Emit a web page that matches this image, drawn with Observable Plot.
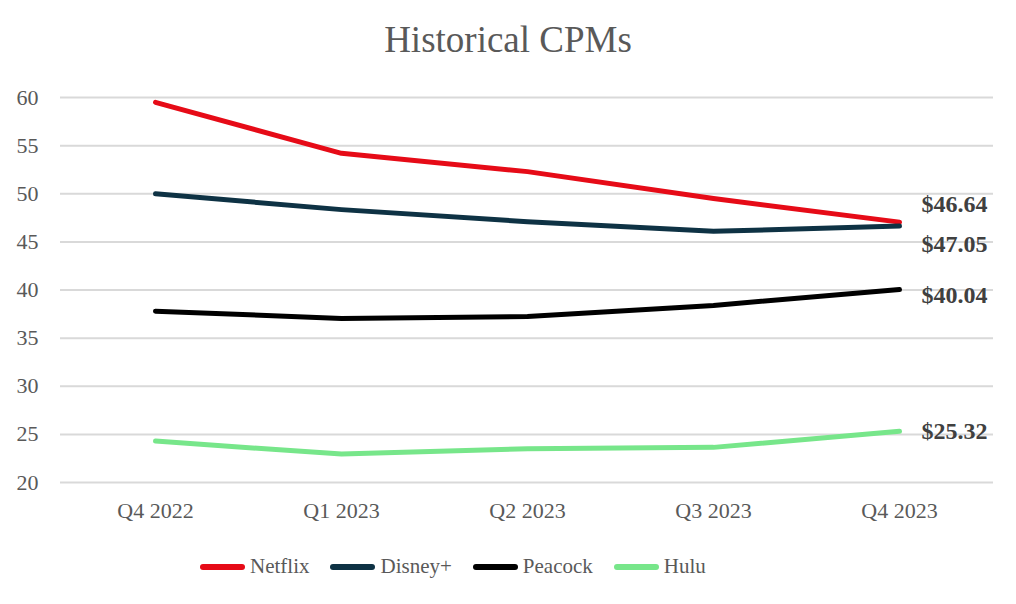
<!DOCTYPE html>
<html><head><meta charset="utf-8">
<script src="https://cdn.jsdelivr.net/npm/d3@7"></script>
<script src="https://cdn.jsdelivr.net/npm/@observablehq/plot@0.6"></script>
<style>
body{margin:0;background:#fff;font-family:"Liberation Serif",serif;}
#wrap{width:1016px;height:604px;position:relative;}
#title{height:70px;line-height:80px;text-align:center;font-size:37px;color:#595959;font-family:"Liberation Serif",serif;}
#legend{display:flex;justify-content:flex-start;gap:21px;margin-top:14px;padding-left:200px;font-size:21px;color:#595959;font-family:"Liberation Serif",serif;}
#legend .item{display:flex;align-items:center;gap:5px;}
#legend .sw{width:45px;height:6px;border-radius:3px;}
</style></head>
<body><div id="wrap"><div id="title">Historical CPMs</div><div id="chart"></div><div id="legend"></div></div>
<script>
const quarters = ["Q4 2022","Q1 2023","Q2 2023","Q3 2023","Q4 2023"];
const seriesNames = ["Netflix","Disney+","Peacock","Hulu"];
const colors = ["#e60b17","#0e3244","#000000","#77e68a"];
const netflix = [59.5, 54.2, 52.3, 49.5, 47.05];
const disney = [50.0, 48.35, 47.1, 46.1, 46.64];
const peacock = [37.8, 37.05, 37.25, 38.4, 40.04];
const hulu = [24.3, 22.95, 23.5, 23.65, 25.32];
const endLabels = ["$46.64","$47.05","$40.04","$25.32"];
const labelDy = [-18, 18, 6, 0];
const yTicks = [20,25,30,35,40,45,50,55,60];

const valuesBySeries = [netflix, disney, peacock, hulu];
const data = [];
seriesNames.forEach((s,i)=>quarters.forEach((q,j)=>data.push({series:s,quarter:q,value:valuesBySeries[i][j]})));
const ends = seriesNames.map((s,i)=>({series:s,quarter:quarters[quarters.length-1],value:valuesBySeries[i][quarters.length-1],label:endLabels[i],dy:labelDy[i]}));

const marks = [
  Plot.ruleY(yTicks,{stroke:"#d9d9d9",strokeWidth:2}),
  Plot.axisY({ticks:yTicks,tickSize:0,tickPadding:22,fontSize:22,fill:"#595959",label:null}),
  Plot.axisX({tickSize:0,tickPadding:20,fontSize:22,fill:"#595959",label:null}),
  Plot.line(data,{x:"quarter",y:"value",z:"series",stroke:"series",strokeWidth:5,strokeLinecap:"round",strokeLinejoin:"round"})
];
ends.forEach(e=>{
  marks.push(Plot.text([e],{x:"quarter",y:"value",text:"label",dx:22,dy:e.dy,textAnchor:"start",fontSize:24,fontWeight:"bold",fill:"#404040"}));
});

const chart = Plot.plot({
  width:1016,height:470,
  marginLeft:60,marginRight:23,marginTop:27,marginBottom:58,
  style:{fontFamily:"Liberation Serif, serif",background:"transparent"},
  x:{type:"point",domain:quarters,padding:0.5},
  y:{domain:[20,60]},
  color:{domain:seriesNames,range:colors},
  marks
});
document.getElementById("chart").appendChild(chart);
const lg = document.getElementById("legend");
seriesNames.forEach((s,i)=>{
  const it=document.createElement("div");it.className="item";
  it.innerHTML=`<span class="sw" style="background:${colors[i]}"></span><span>${s}</span>`;
  lg.appendChild(it);
});
</script></body></html>
